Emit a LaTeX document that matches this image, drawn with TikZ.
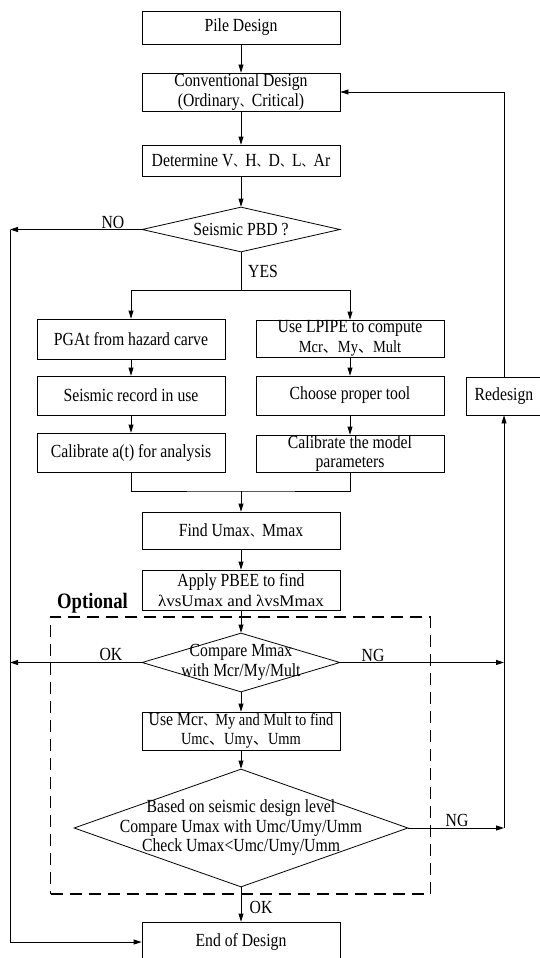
\documentclass[tikz,border=0pt]{standalone}
\usepackage{fontspec}
\setmainfont{Liberation Serif}[FakeStretch=0.85]
\newfontfamily\cjk{Noto Sans CJK SC}
\newfontfamily\widefont{Liberation Serif}[FakeStretch=1.05]
\usetikzlibrary{arrows.meta,shapes.geometric}
\newcommand\dun{{\cjk\fontsize{12}{12}\selectfont 、}}
\newcommand\bigdun{{\cjk\fontsize{15}{15}\selectfont 、}}
\newcommand\smallsz{\fontsize{17}{18}\selectfont}
\begin{document}
\begin{tikzpicture}[x=1pt,y=-1pt, line width=0.8pt,
  >={Triangle[length=8pt,width=5pt]},
  every node/.style={font=\fontsize{18.5}{19.5}\selectfont, inner sep=0pt, align=center},
  box/.style={draw, rectangle, minimum width=198pt},
  lbox/.style={draw, rectangle, minimum width=188pt},
  dia/.style={draw, diamond},
  lab/.style={anchor=base},
  optframe/.style={draw, line width=1.3pt, dash pattern=on 12pt off 7pt}
  ]
\useasboundingbox (0,0) rectangle (539,958);

% main column
\node[box, minimum height=33pt] (pile) at (241,27.5) {Pile Design};
\node[box, minimum height=38pt] (conv) at (241,92) {Conventional Design\\(Ordinary\dun{}Critical)};
\node[box, minimum height=31pt] (det) at (241,160.5) {Determine V\dun{}H\dun{}D\dun{}L\dun{}Ar};
\node[dia, minimum width=198pt, minimum height=45pt] (pbd) at (241,229.5) {};
\node (pbdt) at (pbd) {Seismic PBD ?};

% left column
\node[lbox, minimum height=40pt] (pga) at (131,339) {PGAt from hazard carve};
\node[lbox, minimum height=39pt] (rec) at (131,395.5) {Seismic record in use};
\node[lbox, minimum height=39pt] (cala) at (131,452.5) {Calibrate a(t) for analysis};

% right column
\node[lbox, minimum height=37pt] (lpipe) at (350,338.5) {Use LPIPE to compute\\{\smallsz Mcr\bigdun{}My\bigdun{}Mult}};
\node[lbox, minimum height=39pt] (choose) at (350,395.5) {Choose proper tool};
\node[lbox, minimum height=37pt] (calm) at (350,453.5) {Calibrate the model\\parameters};

% redesign
\node[draw, minimum width=76pt, minimum height=38pt] (redes) at (504,396) {Redesign};

% lower part
\node[box, minimum height=37pt] (find) at (241,530.5) {Find Umax\dun{}Mmax};
\node[box, minimum height=40pt] (apply) at (241,590) {Apply PBEE to find\\{\widefont\fontsize{16.2}{17}\selectfont λvsUmax and λvsMmax}};

\node[optframe, minimum width=379.8pt, minimum height=277pt] (optbox) at (240.6,755.5) {};
\node[font=\bfseries\fontsize{22}{22}\selectfont, lab] (optlab) at (92.5,608) {Optional};

\node[dia, minimum width=198pt, minimum height=59pt] (cmp) at (241,662.5) {};
\node (cmpt) at (241,662.5) {Compare Mmax\\with Mcr/My/Mult};

\node[box, minimum height=38pt] (usemcr) at (241,731) {Use Mcr\dun{}{\smallsz My and Mult to find}\\{\smallsz Umc\bigdun{}Umy\bigdun{}Umm}};

\node[dia, minimum width=334pt, minimum height=118pt] (big) at (241,828) {};
\node (bigt) at (241,828) {Based on seismic design level\\Compare Umax with Umc/Umy/Umm\\Check Umax<Umc/Umy/Umm};

\node[box, minimum height=40pt] (end) at (241,942) {End of Design};

% helper coordinates
\coordinate (lft) at (10,229.5);
\coordinate (okl) at (10,662.5);
\coordinate (yb) at (241,290.7);
\coordinate (mg) at (241,491);
\coordinate (ngA) at (504,662.5);
\coordinate (ngB) at (504,828);

% connectors
\draw[->] (pile) -- (conv);
\draw[->] (conv) -- (det);
\draw[->] (det) -- (pbd);
\draw[->] (pbd.west) -- (lft);
\draw[->] (lft) |- (end.west);
\draw (pbd.south) -- (yb);
\draw[->] (yb) -| (pga.north);
\draw[->] (yb) -| (lpipe.north);
\draw[->] (pga) -- (rec);
\draw[->] (rec) -- (cala);
\draw[->] (lpipe) -- (choose);
\draw[->] (choose) -- (calm);
\draw (cala.south) |- (mg) -| (calm.south);
\draw[->] (mg) -- (find);
\draw[->] (find) -- (apply);
\draw[->] (apply) -- (cmp);
\draw[->] (cmp.west) -- (okl);
\draw[->] (cmp.east) -- (ngA);
\draw[->] (cmp) -- (usemcr);
\draw[->] (usemcr) -- (big);
\draw[->] (big.east) -- (ngB);
\draw[->] (ngB) -- (redes.south);
\draw[->] (redes.north) |- (conv.east);
\draw[->] (big) -- (end);

% labels
\node[lab] (lno) at (113,228) {NO};
\node[lab] (lyes) at (263,277) {YES};
\node[lab] (lok1) at (111,660) {OK};
\node[lab] (lng1) at (373,661) {NG};
\node[lab] (lng2) at (457,826) {NG};
\node[lab] (lok2) at (261,913) {OK};
\end{tikzpicture}
\end{document}
